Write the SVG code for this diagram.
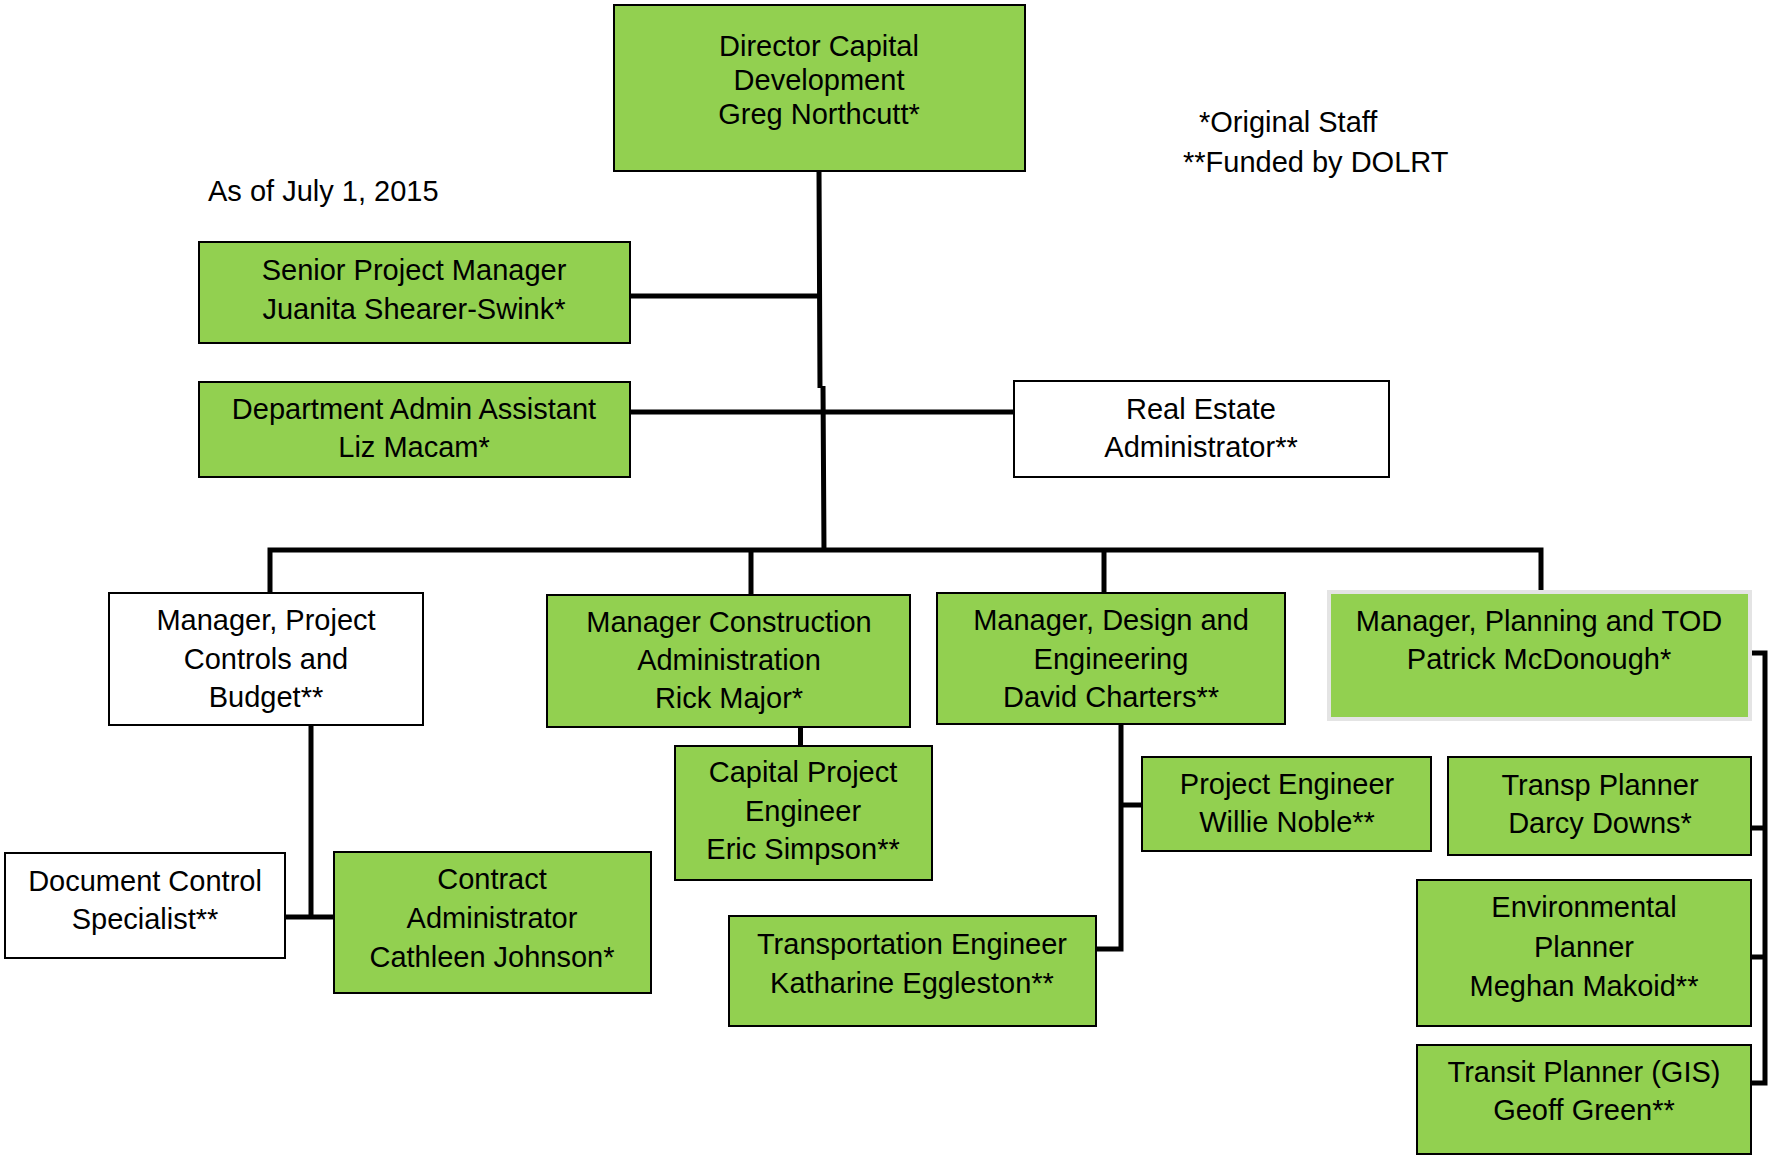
<svg xmlns="http://www.w3.org/2000/svg" width="1769" height="1156" viewBox="0 0 1769 1156">
  <style>
    text { font-family: "Liberation Sans", Arial, sans-serif; font-size: 29px; fill: #000; }
    .c { text-anchor: middle; }
    .green { fill: #92D050; stroke: #000; stroke-width: 2; }
    .white { fill: #fff; stroke: #000; stroke-width: 2; }
    .soft { fill: #92D050; stroke: #e4e4e4; stroke-width: 4; }
    .link { fill: none; stroke: #000; stroke-width: 5; stroke-linejoin: miter; stroke-linecap: butt; }
  </style>
  <rect width="1769" height="1156" fill="#fff"/>

  <!-- reporting lines -->
  <g id="connectors">
    <path class="link" d="M819,171 L820,388 M823,386 L824,551"/>
    <path class="link" d="M630,296 L820,296"/>
    <path class="link" d="M630,412 L1014,412"/>
    <path class="link" d="M270,593 L270,550 L1541,550 L1541,592"/>
    <path class="link" d="M751,550 L751,595"/>
    <path class="link" d="M1104,550 L1104,593"/>
    <path class="link" d="M311,725 L311,917 M285,917 L334,917"/>
    <path class="link" d="M800.5,727 L800.5,746"/>
    <path class="link" d="M1121,724 L1121,949 L1096,949 M1121,805 L1142,805"/>
    <path class="link" d="M1751,653 L1765,653 L1765,1083 L1751,1083 M1751,828 L1765,828 M1751,957 L1765,957"/>
  </g>

  <!-- notes -->
  <g id="notes">
    <text x="208" y="201">As of July 1, 2015</text>
    <text x="1199" y="132">*Original Staff</text>
    <text x="1183" y="172">**Funded by DOLRT</text>
  </g>

  <g id="director">
    <rect class="green" x="614" y="5" width="411" height="166"/>
    <text class="c" x="819" y="56">Director Capital</text>
    <text class="c" x="819" y="90">Development</text>
    <text class="c" x="819" y="124">Greg Northcutt*</text>
  </g>

  <g id="senior-pm">
    <rect class="green" x="199" y="242" width="431" height="101"/>
    <text class="c" x="414" y="280">Senior Project Manager</text>
    <text class="c" x="414" y="319">Juanita Shearer-Swink*</text>
  </g>

  <g id="admin-assistant">
    <rect class="green" x="199" y="382" width="431" height="95"/>
    <text class="c" x="414" y="419">Department Admin Assistant</text>
    <text class="c" x="414" y="457">Liz Macam*</text>
  </g>

  <g id="real-estate">
    <rect class="white" x="1014" y="381" width="375" height="96"/>
    <text class="c" x="1201" y="419">Real Estate</text>
    <text class="c" x="1201" y="457">Administrator**</text>
  </g>

  <g id="project-controls">
    <rect class="white" x="109" y="593" width="314" height="132"/>
    <text class="c" x="266" y="630">Manager, Project</text>
    <text class="c" x="266" y="669">Controls and</text>
    <text class="c" x="266" y="707">Budget**</text>
  </g>

  <g id="construction">
    <rect class="green" x="547" y="595" width="363" height="132"/>
    <text class="c" x="729" y="632">Manager Construction</text>
    <text class="c" x="729" y="670">Administration</text>
    <text class="c" x="729" y="708">Rick Major*</text>
  </g>

  <g id="design">
    <rect class="green" x="937" y="593" width="348" height="131"/>
    <text class="c" x="1111" y="630">Manager, Design and</text>
    <text class="c" x="1111" y="669">Engineering</text>
    <text class="c" x="1111" y="707">David Charters**</text>
  </g>

  <g id="planning">
    <rect class="soft" x="1329" y="592" width="421" height="127"/>
    <text class="c" x="1539" y="631">Manager, Planning and TOD</text>
    <text class="c" x="1539" y="669">Patrick McDonough*</text>
  </g>

  <g id="document-control">
    <rect class="white" x="5" y="853" width="280" height="105"/>
    <text class="c" x="145" y="891">Document Control</text>
    <text class="c" x="145" y="929">Specialist**</text>
  </g>

  <g id="contract-admin">
    <rect class="green" x="334" y="852" width="317" height="141"/>
    <text class="c" x="492" y="889">Contract</text>
    <text class="c" x="492" y="928">Administrator</text>
    <text class="c" x="492" y="967">Cathleen Johnson*</text>
  </g>

  <g id="capital-project-engineer">
    <rect class="green" x="675" y="746" width="257" height="134"/>
    <text class="c" x="803" y="782">Capital Project</text>
    <text class="c" x="803" y="821">Engineer</text>
    <text class="c" x="803" y="859">Eric Simpson**</text>
  </g>

  <g id="project-engineer">
    <rect class="green" x="1142" y="757" width="289" height="94"/>
    <text class="c" x="1287" y="794">Project Engineer</text>
    <text class="c" x="1287" y="832">Willie Noble**</text>
  </g>

  <g id="transportation-engineer">
    <rect class="green" x="729" y="916" width="367" height="110"/>
    <text class="c" x="912" y="954">Transportation Engineer</text>
    <text class="c" x="912" y="993">Katharine Eggleston**</text>
  </g>

  <g id="transp-planner">
    <rect class="green" x="1448" y="757" width="303" height="98"/>
    <text class="c" x="1600" y="795">Transp Planner</text>
    <text class="c" x="1600" y="833">Darcy Downs*</text>
  </g>

  <g id="environmental-planner">
    <rect class="green" x="1417" y="880" width="334" height="146"/>
    <text class="c" x="1584" y="917">Environmental</text>
    <text class="c" x="1584" y="957">Planner</text>
    <text class="c" x="1584" y="996">Meghan Makoid**</text>
  </g>

  <g id="transit-planner">
    <rect class="green" x="1417" y="1045" width="334" height="109"/>
    <text class="c" x="1584" y="1082">Transit Planner (GIS)</text>
    <text class="c" x="1584" y="1120">Geoff Green**</text>
  </g>
</svg>
